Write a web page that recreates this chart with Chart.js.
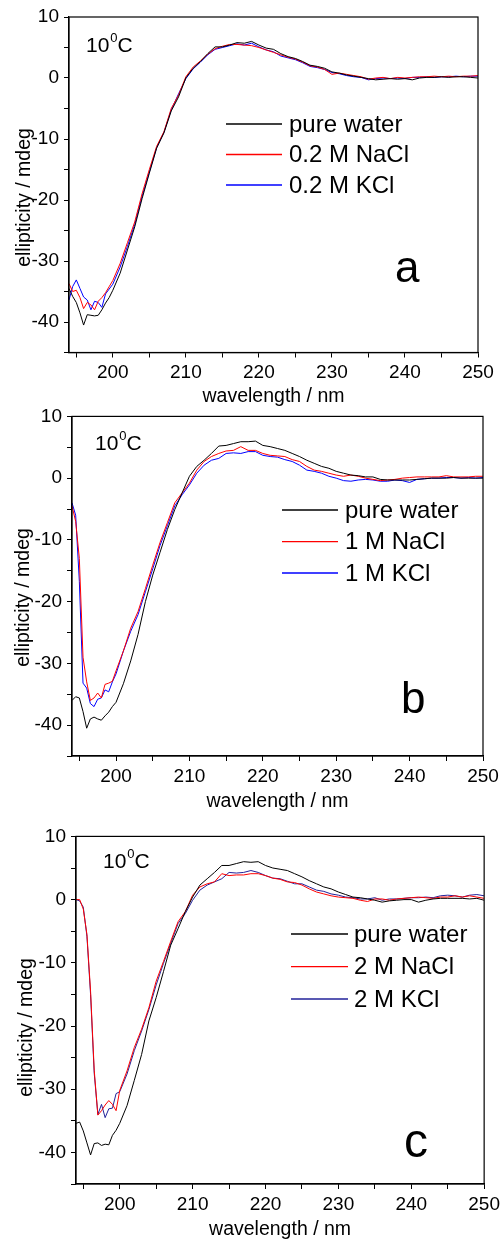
<!DOCTYPE html>
<html>
<head>
<meta charset="utf-8">
<script src="https://cdn.jsdelivr.net/npm/chart.js@4"></script>
<style>
  body { margin: 0; background: #fff; }
  #wrap { position: relative; width: 504px; height: 1243px; overflow: hidden; }
  canvas { position: absolute; left: 0; }
</style>
</head>
<body>
<div id="wrap">
  <canvas id="chartA" width="504" height="415" style="top:0px"></canvas>
  <canvas id="chartB" width="504" height="420" style="top:400px"></canvas>
  <canvas id="chartC" width="504" height="423" style="top:820px"></canvas>
</div>
<script>
// wavelength grid (nm), shared by all curves
var wavelength = [194, 194.5, 195, 195.5, 196, 196.5, 197, 197.5, 198, 198.5, 199, 199.5, 200,
  201, 202, 203, 204, 205, 206, 207, 208, 209, 210,
  211, 212, 213, 214, 215, 216, 217, 218, 219, 220,
  221, 222, 223, 224, 225, 226, 227, 228, 229, 230,
  231, 232, 233, 234, 235, 236, 237, 238, 239, 240,
  241, 242, 243, 244, 245, 246, 247, 248, 249, 250];

// panel a
var waterA = [-34.5, -35.8, -36.8, -38.5, -40.5, -38.8, -38.9, -39.0, -38.9, -38.0, -36.9, -36.0, -34.8,
  -32.0, -28.2, -24.4, -19.8, -15.6, -11.5, -9.0, -5.4, -3.1, 0.0,
  1.6, 2.7, 4.0, 5.1, 5.1, 5.4, 5.8, 5.7, 6.0, 5.4,
  4.9, 4.7, 4.0, 3.5, 3.2, 2.7, 2.1, 1.9, 1.6, 1.0,
  0.8, 0.5, 0.3, 0.1, -0.1, -0.3, -0.2, -0.1, -0.2, -0.1,
  -0.3, 0.0, 0.1, 0.1, 0.2, 0.1, 0.2, 0.2, 0.1, 0.0];
var naclA = [-33.7, -35.0, -34.8, -36.0, -37.8, -36.8, -37.2, -38.0, -36.6, -36.0, -35.2, -34.2, -33.2,
  -30.4, -27.0, -23.6, -19.0, -15.0, -11.2, -8.8, -5.0, -2.8, 0.2,
  1.8, 2.8, 3.9, 4.8, 5.2, 5.5, 5.5, 5.4, 5.3, 5.0,
  4.6, 4.2, 3.8, 3.4, 3.1, 2.6, 2.0, 1.8, 1.4, 0.6,
  0.8, 0.6, 0.4, 0.2, -0.2, 0.0, 0.1, -0.1, 0.1, 0.0,
  0.1, 0.2, 0.2, 0.3, 0.2, 0.3, 0.2, 0.3, 0.3, 0.4];
var kclA = [-36.4, -34.2, -33.1, -34.5, -35.9, -36.4, -38.0, -36.6, -36.8, -37.6, -35.4, -34.6, -33.8,
  -31.0, -27.6, -24.0, -19.4, -15.4, -11.4, -8.9, -5.2, -2.6, -0.1,
  1.5, 2.6, 3.8, 4.7, 5.0, 5.3, 5.6, 5.4, 5.7, 5.1,
  4.6, 4.3, 3.6, 3.3, 3.0, 2.5, 1.9, 1.7, 1.4, 0.9,
  0.7, 0.4, 0.2, 0.1, -0.3, -0.1, 0.0, -0.1, 0.0, -0.1,
  0.1, 0.1, 0.2, 0.1, 0.2, 0.2, 0.3, 0.2, 0.3, 0.3];

// panel b
var waterB = [-36.0, -35.4, -35.6, -37.8, -40.5, -39.0, -38.7, -39.0, -39.2, -38.5, -37.9, -37.0, -36.3,
  -33.3, -29.6, -25.3, -20.0, -15.7, -12.0, -8.3, -5.1, -2.4, 0.3,
  1.9, 2.9, 4.0, 5.2, 5.3, 5.6, 5.9, 5.9, 6.0, 5.3,
  5.1, 4.8, 4.5, 4.0, 3.5, 2.9, 2.4, 1.9, 1.6, 1.1,
  0.8, 0.5, 0.4, 0.2, 0.2, -0.2, -0.3, -0.3, -0.3, -0.3,
  -0.2, -0.1, 0.0, 0.0, 0.0, 0.1, 0.0, 0.0, 0.0, 0.0];
var naclB = [-4.5, -7.0, -13.0, -29.0, -33.0, -36.0, -35.6, -34.8, -35.6, -33.4, -33.2, -32.9, -31.2,
  -28.0, -24.3, -21.6, -17.9, -14.1, -10.4, -7.2, -4.0, -2.4, -0.8,
  1.3, 2.7, 3.5, 4.0, 4.4, 4.5, 5.1, 4.5, 4.5, 4.0,
  3.7, 3.6, 3.5, 3.0, 2.7, 1.9, 1.3, 1.1, 0.8, 0.5,
  0.3, 0.5, 0.3, 0.0, -0.2, -0.4, -0.3, -0.2, 0.0, 0.1,
  0.2, 0.2, 0.2, 0.2, 0.4, 0.2, 0.2, 0.2, 0.3, 0.3];
var kclB = [-4.0, -6.0, -16.7, -33.2, -34.0, -36.5, -37.0, -35.8, -35.6, -34.3, -34.6, -33.0, -31.7,
  -28.0, -24.8, -22.1, -18.4, -14.7, -10.9, -7.7, -4.5, -2.7, -1.1,
  0.8, 2.1, 2.9, 3.2, 4.0, 4.1, 4.0, 4.3, 4.3, 3.7,
  3.5, 3.4, 3.0, 2.7, 2.1, 1.3, 1.1, 0.8, 0.3, 0.0,
  -0.4, -0.5, -0.3, -0.2, -0.3, -0.5, -0.5, -0.3, -0.4, -0.7,
  -0.2, -0.1, 0.0, 0.0, 0.1, 0.1, 0.0, 0.1, 0.0, 0.1];

// panel c
var waterC = [-35.4, -35.2, -36.6, -38.5, -40.4, -38.6, -38.5, -38.9, -38.7, -38.8, -37.3, -36.5, -35.4,
  -32.6, -28.6, -24.5, -19.2, -15.5, -11.4, -7.2, -4.6, -1.9, 0.4,
  2.3, 3.3, 4.3, 5.4, 5.4, 5.7, 6.0, 5.9, 6.0, 5.4,
  5.0, 4.8, 4.6, 4.1, 3.6, 3.0, 2.5, 2.0, 1.7, 1.2,
  0.8, 0.4, 0.3, 0.1, -0.1, -0.4, -0.2, -0.1, 0.0, 0.0,
  -0.4, -0.1, 0.1, 0.2, 0.2, 0.2, 0.2, 0.1, 0.2, -0.1];
var naclC = [0.0, 0.0, -1.5, -5.5, -14.5, -27.0, -34.1, -33.4, -32.5, -31.8, -32.4, -33.4, -30.2,
  -27.1, -23.4, -20.5, -17.1, -12.9, -9.8, -6.6, -3.5, -1.9, 0.7,
  2.0, 2.5, 2.8, 4.1, 3.8, 3.9, 3.9, 4.1, 4.1, 3.8,
  3.4, 3.2, 2.8, 2.7, 2.3, 1.7, 1.2, 0.9, 0.6, 0.4,
  0.3, 0.2, -0.1, -0.3, 0.1, 0.1, -0.1, 0.1, 0.2, 0.3,
  0.4, 0.3, 0.2, 0.4, 0.4, 0.6, 0.4, 0.6, 0.4, 0.2];
var kclC = [0.0, -0.2, -1.2, -5.8, -15.0, -27.5, -34.0, -32.4, -34.5, -33.1, -33.0, -30.7, -30.4,
  -27.6, -23.9, -20.8, -17.4, -13.5, -10.1, -6.9, -3.8, -2.2, -0.1,
  1.5, 2.3, 2.8, 3.3, 4.3, 4.2, 4.3, 4.6, 4.3, 3.8,
  3.4, 3.3, 2.9, 2.5, 2.5, 2.0, 1.5, 1.3, 0.9, 0.7,
  0.4, 0.3, 0.1, 0.1, 0.3, -0.1, 0.1, 0.1, 0.2, 0.3,
  0.3, 0.4, 0.3, 0.6, 0.7, 0.6, 0.4, 0.7, 0.8, 0.6];

var labelsA = ['pure water', '0.2 M NaCl', '0.2 M KCl'];
var labelsB = ['pure water', '1 M NaCl', '1 M KCl'];
var labelsC = ['pure water', '2 M NaCl', '2 M KCl'];

var xTicks = { min: 194, max: 250, step: 5 };
var yTicks = { min: -45, max: 10, step: 5 };

var FONT = '"Liberation Sans", Arial, sans-serif';

function points(ys) {
    return wavelength.map(function(w, i) { return { x: w, y: ys[i] }; });
}

// draws frame, temperature tag, panel letter, legend and y title
var decor = {
    id: 'decor',
    afterDraw: function(chart, args, o) {
        var ctx = chart.ctx, a = chart.chartArea;
        ctx.save();
        ctx.strokeStyle = '#000';
        ctx.lineWidth = 1.2;
        ctx.strokeRect(a.left, a.top, a.right - a.left, a.bottom - a.top);

        ctx.fillStyle = '#000';
        ctx.textBaseline = 'alphabetic';
        ctx.textAlign = 'left';
        // 10^0 C
        ctx.font = '21px ' + FONT;
        var x = o.tag[0];
        ctx.fillText('10', x, o.tag[1]);
        x += ctx.measureText('10').width + 1;
        ctx.font = '13px ' + FONT;
        ctx.fillText('0', x, o.tag[1] - 10);
        x += ctx.measureText('0').width;
        ctx.font = '21px ' + FONT;
        ctx.fillText('C', x, o.tag[1]);

        // panel letter
        ctx.font = o.letter[3] + 'px ' + FONT;
        ctx.fillText(o.letter[0], o.letter[1], o.letter[2]);

        // legend
        ctx.font = '24px ' + FONT;
        ctx.textBaseline = 'middle';
        chart.data.datasets.forEach(function(ds, i) {
            var y = o.legend.rows[i];
            ctx.strokeStyle = ds.borderColor;
            ctx.lineWidth = 1.3;
            ctx.beginPath();
            ctx.moveTo(o.legend.x0, y);
            ctx.lineTo(o.legend.x1, y);
            ctx.stroke();
            ctx.fillText(ds.label, o.legend.tx, y + 1);
        });

        // y title
        ctx.font = '19.5px ' + FONT;
        ctx.textAlign = 'center';
        ctx.textBaseline = 'alphabetic';
        ctx.translate(o.yTitle[0], o.yTitle[1]);
        ctx.rotate(-Math.PI / 2);
        ctx.fillText('ellipticity / mdeg', 0, 0);
        ctx.restore();
    }
};

function makeChart(id, lbls, series, colors, lay) {
    var ctx = document.getElementById(id).getContext('2d');
    return new Chart(ctx, {
        type: 'line',
        data: {
            datasets: series.map(function(s, i) {
                return {
                    label: lbls[i],
                    data: points(s),
                    borderColor: colors[i],
                    borderWidth: 1,
                    pointRadius: 0,
                    tension: 0
                };
            })
        },
        options: {
            responsive: false,
            animation: false,
            devicePixelRatio: 1,
            layout: { padding: { left: 0, top: lay.top, right: 504 - lay.right, bottom: 0 } },
            plugins: {
                legend: { display: false },
                tooltip: { enabled: false },
                decor: lay
            },
            scales: {
                x: {
                    type: 'linear',
                    min: xTicks.min,
                    max: xTicks.max,
                    afterFit: function(s) { s.height = lay.xh; },
                    border: { color: '#000', width: 1.2 },
                    grid: { drawOnChartArea: false, color: '#000', tickLength: 5 },
                    ticks: {
                        stepSize: xTicks.step,
                        includeBounds: false,
                        autoSkip: false,
                        maxRotation: 0,
                        padding: 4,
                        color: '#000',
                        font: { family: FONT, size: 19 },
                        callback: function(v) { return v % 10 === 0 ? v : ''; }
                    },
                    title: {
                        display: true,
                        text: 'wavelength / nm',
                        color: '#000',
                        font: { family: FONT, size: 19.5 },
                        padding: { top: 0, bottom: lay.xtp }
                    }
                },
                y: {
                    min: yTicks.min,
                    max: yTicks.max,
                    afterFit: function(s) { s.width = lay.left; },
                    border: { color: '#000', width: 1.2 },
                    grid: { drawOnChartArea: false, color: '#000', tickLength: 5 },
                    ticks: {
                        stepSize: yTicks.step,
                        padding: 5,
                        color: '#000',
                        font: { family: FONT, size: 19 },
                        callback: function(v) { return v % 10 === 0 ? v : ''; }
                    }
                }
            }
        },
        plugins: [decor]
    });
}

makeChart('chartA', labelsA, [waterA, naclA, kclA], ['#000000', '#ff0000', '#0000ff'], {
    left: 69, right: 478, top: 17, xh: 62.5, xtp: 6.6,
    tag: [86, 52], letter: ['a', 395, 282, 44],
    legend: { x0: 226, x1: 282, tx: 289, rows: [124, 154.5, 185] },
    yTitle: [30, 197.5]
});
makeChart('chartB', labelsB, [waterB, naclB, kclB], ['#000000', '#ff0000', '#0000ff'], {
    left: 72, right: 483, top: 12.7, xh: 64, xtp: 6.9,
    tag: [95, 50], letter: ['b', 401, 313, 44],
    legend: { x0: 282, x1: 338, tx: 345, rows: [110, 141.7, 173] },
    yTitle: [29, 197.5]
});
makeChart('chartC', labelsC, [waterC, naclC, kclC], ['#000000', '#ff0000', '#22229a'], {
    left: 76, right: 488, top: 14, xh: 59, xtp: 1.6,
    tag: [103, 47.7], letter: ['c', 404, 337, 48],
    legend: { x0: 291, x1: 348, tx: 354, rows: [114, 146.7, 179] },
    yTitle: [32, 207.5]
});
</script>
</body>
</html>
